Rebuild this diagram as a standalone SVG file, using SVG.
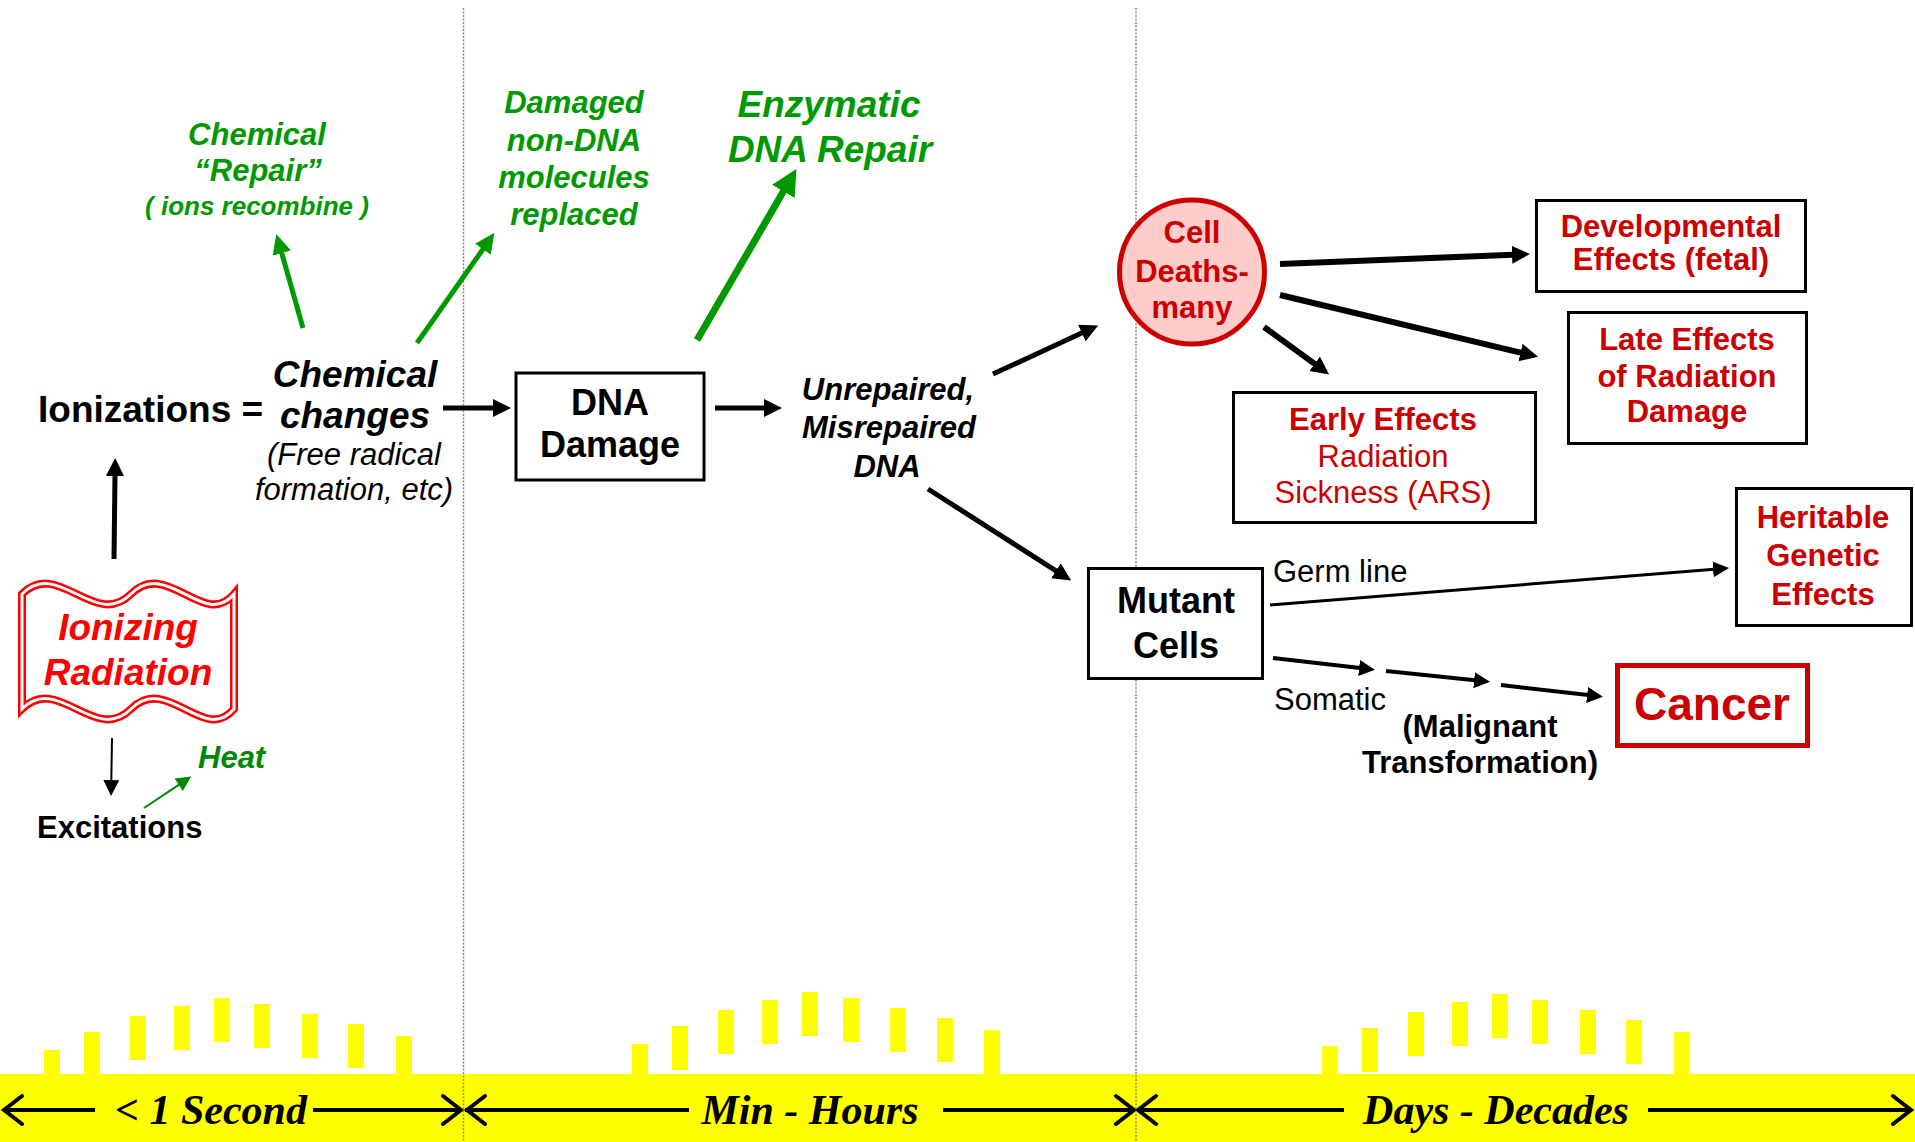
<svg xmlns="http://www.w3.org/2000/svg" width="1915" height="1142" viewBox="0 0 1915 1142">
<style>
text{font-family:"Liberation Sans",Arial,sans-serif}
.b{font-weight:bold}
.i{font-style:italic}
.m{text-anchor:middle}
.g{fill:#009900}
.r{fill:#CC0000}
.k{fill:#000}
.box{fill:#fff;stroke:#000;stroke-width:3}
.ln{fill:none;stroke:#000}
.gl{fill:none;stroke:#009900}
.bar{fill:#FFFF00}
.tl{font-family:"Liberation Serif","Times New Roman",serif;font-weight:bold;font-style:italic;font-size:42px;text-anchor:middle}
.tline{stroke:#000;stroke-width:4;fill:none}
.div{stroke:#8a8a8a;stroke-width:1.5;stroke-dasharray:2 1.5}
</style>
<defs>
<marker id="ak" markerUnits="userSpaceOnUse" markerWidth="20" markerHeight="20" refX="1" refY="9" orient="auto" viewBox="0 0 20 20"><path d="M0,0 L18,9 L0,18 z" fill="#000"/></marker>
<marker id="aks" markerUnits="userSpaceOnUse" markerWidth="18" markerHeight="18" refX="1" refY="8" orient="auto" viewBox="0 0 18 18"><path d="M0,0 L16,8 L0,16 z" fill="#000"/></marker>
<marker id="ag" markerUnits="userSpaceOnUse" markerWidth="22" markerHeight="22" refX="1" refY="9.5" orient="auto" viewBox="0 0 22 22"><path d="M0,0 L20,9.5 L0,19 z" fill="#009900"/></marker>
<marker id="agl" markerUnits="userSpaceOnUse" markerWidth="28" markerHeight="28" refX="1" refY="13" orient="auto" viewBox="0 0 28 28"><path d="M0,0 L26,13 L0,26 z" fill="#009900"/></marker>
<marker id="ags" markerUnits="userSpaceOnUse" markerWidth="17" markerHeight="17" refX="1" refY="7.5" orient="auto" viewBox="0 0 17 17"><path d="M0,0 L15,7.5 L0,15 z" fill="#008800"/></marker>
<path id="wave" d="M22,594 C58.3,558 94.7,630 131,594 C167.3,558 203.7,630 234,594 L234,709 C203.7,745 167.3,673 131,709 C94.7,745 58.3,673 22,709 Z"/>
</defs>
<rect width="1915" height="1142" fill="#fff"/>

<!-- timeline -->
<g id="timeline">
<rect x="0" y="1074" width="1915" height="68" fill="#FFFF00"/>
<rect class="bar" x="44" y="1050" width="16" height="24"/>
<rect class="bar" x="84" y="1032" width="16" height="42"/>
<rect class="bar" x="130" y="1016" width="16" height="44"/>
<rect class="bar" x="174" y="1006" width="16" height="44"/>
<rect class="bar" x="214" y="998" width="16" height="44"/>
<rect class="bar" x="254" y="1004" width="16" height="44"/>
<rect class="bar" x="302" y="1014" width="16" height="44"/>
<rect class="bar" x="348" y="1024" width="16" height="44"/>
<rect class="bar" x="396" y="1036" width="16" height="38"/>
<rect class="bar" x="632" y="1044" width="16" height="30"/>
<rect class="bar" x="672" y="1026" width="16" height="44"/>
<rect class="bar" x="718" y="1010" width="16" height="44"/>
<rect class="bar" x="762" y="1000" width="16" height="44"/>
<rect class="bar" x="802" y="992" width="16" height="44"/>
<rect class="bar" x="843" y="998" width="16" height="44"/>
<rect class="bar" x="890" y="1008" width="16" height="44"/>
<rect class="bar" x="937" y="1018" width="16" height="44"/>
<rect class="bar" x="984" y="1030" width="16" height="44"/>
<rect class="bar" x="1322" y="1046" width="16" height="28"/>
<rect class="bar" x="1362" y="1028" width="16" height="44"/>
<rect class="bar" x="1408" y="1012" width="16" height="44"/>
<rect class="bar" x="1452" y="1002" width="16" height="44"/>
<rect class="bar" x="1492" y="994" width="16" height="44"/>
<rect class="bar" x="1532" y="1000" width="16" height="44"/>
<rect class="bar" x="1580" y="1010" width="16" height="44"/>
<rect class="bar" x="1626" y="1020" width="16" height="44"/>
<rect class="bar" x="1674" y="1032" width="16" height="42"/>
<path class="tline" d="M3,1110 H95 M313,1110 H462 M465,1110 H689 M943,1110 H1134 M1138,1110 H1344 M1648,1110 H1912"/>
<path class="tline" stroke-linecap="round" d="M22,1096 L4,1110 L22,1124 M443,1096 L461,1110 L443,1124 M485,1096 L467,1110 L485,1124 M1116,1096 L1134,1110 L1116,1124 M1156,1096 L1138,1110 L1156,1124 M1893,1096 L1911,1110 L1893,1124"/>
<text class="tl" x="211" y="1124">&lt; 1 Second</text>
<text class="tl" x="810" y="1124">Min - Hours</text>
<text class="tl" x="1496" y="1124">Days - Decades</text>
</g>

<g id="dividers">
<line class="div" x1="463.5" y1="8" x2="463.5" y2="1142"/>
<line class="div" x1="1136" y1="8" x2="1136" y2="1142"/>
</g>

<!-- connectors -->
<g id="connectors">
<line class="ln" stroke-width="5" x1="114" y1="559" x2="115" y2="475" marker-end="url(#ak)"/>
<line class="ln" stroke-width="2" x1="112" y1="738" x2="111.3" y2="781" marker-end="url(#aks)"/>
<line class="ln" stroke-width="5" x1="443" y1="408" x2="494" y2="408" marker-end="url(#ak)"/>
<line class="ln" stroke-width="5" x1="715" y1="408" x2="765" y2="408" marker-end="url(#ak)"/>
<line class="ln" stroke-width="5" x1="993" y1="374" x2="1082.7" y2="332.6" marker-end="url(#ak)"/>
<line class="ln" stroke-width="5" x1="928" y1="489" x2="1056.8" y2="571.3" marker-end="url(#ak)"/>
<line class="ln" stroke-width="6" x1="1280" y1="264" x2="1513" y2="254.7" marker-end="url(#ak)"/>
<line class="ln" stroke-width="6" x1="1280" y1="295" x2="1521.5" y2="352.8" marker-end="url(#ak)"/>
<line class="ln" stroke-width="6" x1="1264" y1="327" x2="1315.4" y2="364.4" marker-end="url(#ak)"/>
<line class="ln" stroke-width="3" x1="1270" y1="605" x2="1714.1" y2="569.3" marker-end="url(#aks)"/>
<line class="ln" stroke-width="4" x1="1273" y1="658" x2="1360.1" y2="668.1" marker-end="url(#aks)"/>
<line class="ln" stroke-width="4" x1="1386" y1="671" x2="1475.1" y2="680.3" marker-end="url(#aks)"/>
<line class="ln" stroke-width="4" x1="1501" y1="685" x2="1588.1" y2="695.1" marker-end="url(#aks)"/>
<line class="gl" stroke-width="5" x1="303" y1="328" x2="281.5" y2="252.2" marker-end="url(#ag)"/>
<line class="gl" stroke-width="5" x1="417" y1="343" x2="483.5" y2="248.4" marker-end="url(#ag)"/>
<line class="gl" stroke-width="7" x1="697" y1="340" x2="783.9" y2="190.5" marker-end="url(#agl)"/>
<line stroke="#008800" stroke-width="2" x1="144" y1="808" x2="179.5" y2="784.3" marker-end="url(#ags)"/>
</g>

<!-- nodes -->
<g id="ionizing-radiation">
<use href="#wave" fill="#fff" stroke="#FF0000" stroke-width="8"/>
<use href="#wave" fill="none" stroke="#fff" stroke-width="3"/>
<text class="b i m" fill="#FF0000" font-size="37" x="128" y="640">Ionizing</text>
<text class="b i m" fill="#FF0000" font-size="37" x="128" y="685">Radiation</text>
</g>

<g id="excitations"><text class="b k" font-size="31" x="37" y="838">Excitations</text></g>
<g id="heat"><text class="b i" fill="#008800" font-size="31" x="198" y="768">Heat</text></g>
<g id="ionizations"><text class="b k" font-size="37" x="38" y="422">Ionizations =</text></g>

<g id="chemical-changes">
<text class="b i m k" font-size="37" x="355" y="387">Chemical</text>
<text class="b i m k" font-size="37" x="355" y="428">changes</text>
<text class="i m k" font-size="31" x="354" y="465">(Free radical</text>
<text class="i m k" font-size="31" x="354" y="500">formation, etc)</text>
</g>

<g id="chemical-repair">
<text class="b i m g" font-size="31" x="257" y="145">Chemical</text>
<text class="b i m g" font-size="31" x="258" y="181">“Repair”</text>
<text class="b i m g" font-size="26" x="257" y="215">( ions recombine )</text>
</g>

<g id="non-dna">
<text class="b i m g" font-size="31" x="574" y="113">Damaged</text>
<text class="b i m g" font-size="31" x="574" y="151">non-DNA</text>
<text class="b i m g" font-size="31" x="574" y="188">molecules</text>
<text class="b i m g" font-size="31" x="574" y="225">replaced</text>
</g>

<g id="enzymatic-repair">
<text class="b i m g" font-size="37" x="829" y="117">Enzymatic</text>
<text class="b i m g" font-size="37" x="830" y="162">DNA Repair</text>
</g>

<g id="dna-damage">
<rect class="box" x="516" y="373" width="188" height="107"/>
<text class="b m k" font-size="36" x="610" y="415">DNA</text>
<text class="b m k" font-size="36" x="610" y="457">Damage</text>
</g>

<g id="unrepaired">
<text class="b i m k" font-size="31" x="888" y="400">Unrepaired,</text>
<text class="b i m k" font-size="31" x="889" y="438">Misrepaired</text>
<text class="b i m k" font-size="31" x="887" y="477">DNA</text>
</g>

<g id="cell-deaths">
<ellipse cx="1192" cy="272" rx="72.5" ry="72" fill="#FFCCCC" stroke="#CC0000" stroke-width="5"/>
<text class="b m r" font-size="31" x="1192" y="243">Cell</text>
<text class="b m r" font-size="31" x="1192" y="282">Deaths-</text>
<text class="b m r" font-size="31" x="1192" y="318">many</text>
</g>

<g id="developmental">
<rect class="box" x="1536.5" y="200.5" width="269" height="91"/>
<text class="b m r" font-size="31" x="1671" y="237">Developmental</text>
<text class="b m r" font-size="31" x="1671" y="270">Effects (fetal)</text>
</g>

<g id="late-effects">
<rect class="box" x="1568.5" y="312.5" width="238" height="131"/>
<text class="b m r" font-size="31" x="1687" y="350">Late Effects</text>
<text class="b m r" font-size="31" x="1687" y="387">of Radiation</text>
<text class="b m r" font-size="31" x="1687" y="422">Damage</text>
</g>

<g id="early-effects">
<rect class="box" x="1233.5" y="392.5" width="302" height="130"/>
<text class="b m r" font-size="31" x="1383" y="430">Early Effects</text>
<text class="m r" font-size="31" x="1383" y="467">Radiation</text>
<text class="m r" font-size="31" x="1383" y="503">Sickness (ARS)</text>
</g>

<g id="heritable">
<rect class="box" x="1736.5" y="488.5" width="175" height="137"/>
<text class="b m r" font-size="31" x="1823" y="528">Heritable</text>
<text class="b m r" font-size="31" x="1823" y="566">Genetic</text>
<text class="b m r" font-size="31" x="1823" y="605">Effects</text>
</g>

<g id="mutant-cells">
<rect class="box" x="1088.5" y="568.5" width="174" height="110" stroke-width="2.5"/>
<text class="b m k" font-size="36" x="1176" y="613">Mutant</text>
<text class="b m k" font-size="36" x="1176" y="658">Cells</text>
</g>

<g id="labels">
<text class="k" font-size="31" x="1273" y="582">Germ line</text>
<text class="k" font-size="31" x="1274" y="710">Somatic</text>
<text class="b m k" font-size="31" x="1480" y="737">(Malignant</text>
<text class="b m k" font-size="31" x="1480" y="773">Transformation)</text>
</g>

<g id="cancer">
<rect x="1617.5" y="665.5" width="190" height="80" fill="#fff" stroke="#CC0000" stroke-width="5"/>
<text class="b m r" font-size="46" x="1712" y="720">Cancer</text>
</g>
</svg>
